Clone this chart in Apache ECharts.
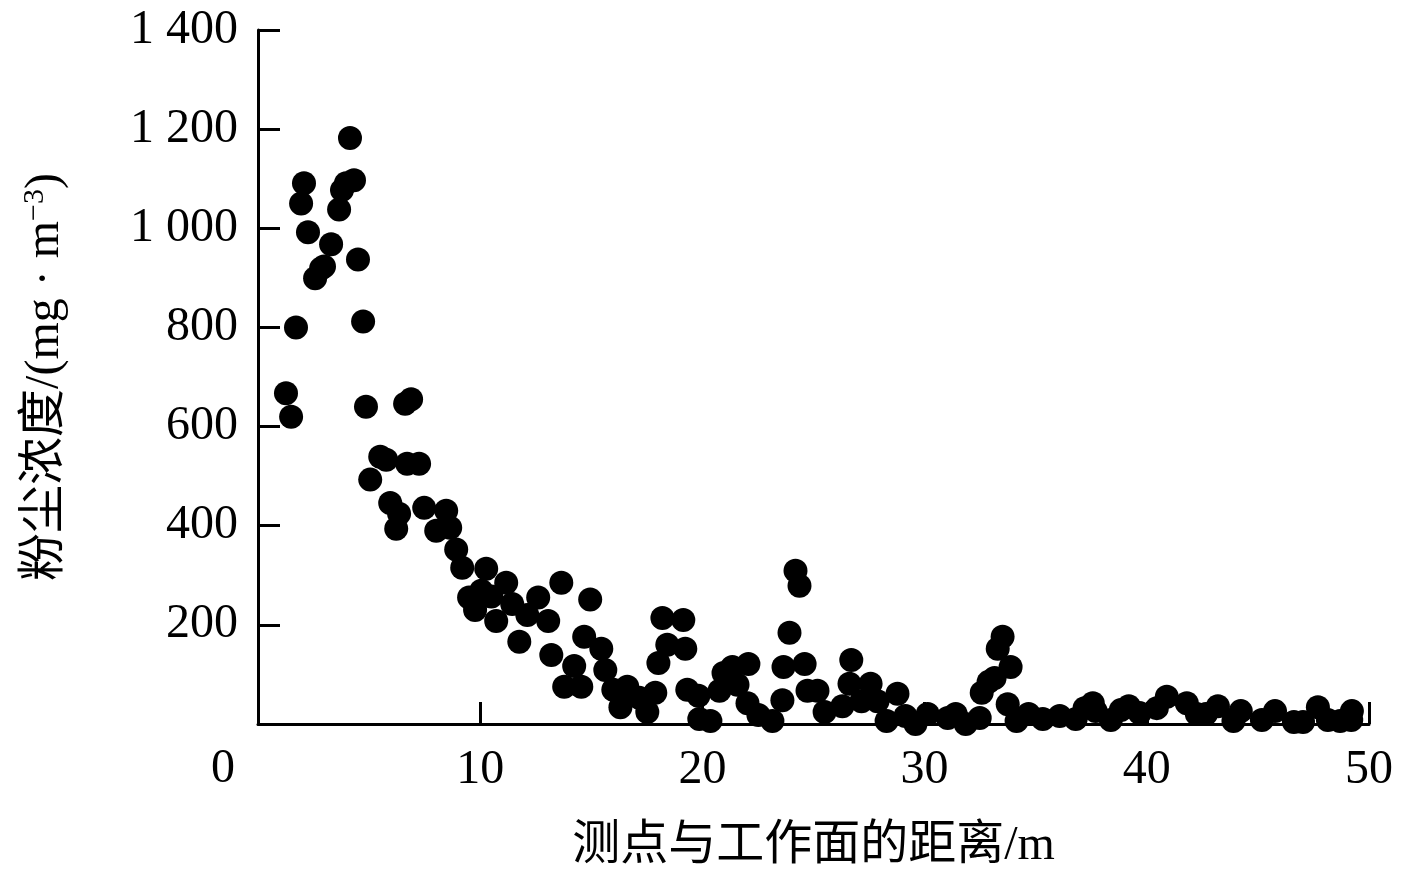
<!DOCTYPE html>
<html>
<head>
<meta charset="utf-8">
<script src="https://cdn.jsdelivr.net/npm/echarts@6/dist/echarts.min.js"></script>
<style>html,body{margin:0;padding:0;background:#fff}#main{width:1406px;height:884px}</style>
</head>
<body>
<div id="main"></div>
<script>
var xData = [1.26,1.49,1.71,1.94,2.07,2.25,2.57,2.84,2.97,3.29,3.65,3.78,3.96,4.14,4.32,4.50,4.73,4.86,5.05,5.50,5.77,5.95,6.22,6.35,6.62,6.89,6.71,7.25,7.48,8.02,8.47,8.65,8.92,9.19,9.5,9.77,10.05,10.27,10.5,10.72,11.17,11.44,11.76,12.12,12.61,13.06,13.2,13.65,13.78,14.23,14.55,14.68,14.95,15.45,15.63,15.99,16.31,16.62,17.16,17.52,17.88,18.02,18.2,18.42,19.14,19.23,19.32,19.82,19.86,20.36,20.77,20.95,21.35,21.58,22.07,22.03,22.52,23.15,23.6,23.65,23.92,24.19,24.37,24.6,24.73,25.18,25.5,26.3,26.7,26.62,27.16,27.57,27.88,28.29,28.78,29.14,29.59,30.14,31.04,31.4,31.85,32.48,32.57,32.88,33.15,33.29,33.51,33.87,33.74,34.14,34.68,35.32,36.08,36.8,37.2,37.57,37.7,38.38,38.83,39.19,39.68,40.45,40.9,41.8,42.25,42.66,43.2,43.9,44.23,45.18,45.77,46.62,47.03,47.7,48.15,48.7,49.23,49.2];
var yData = [667,620,800,1050,1091,992,899,919,923,968,1038,1077,1091,1182,1097,937,812,640,493,539,533,446,394,424,646,655,525,525,436,390,430,396,352,315,255,230,269,313,257,208,285,242,166,220,255,208,139,285,75,117,75,176,251,152,109,69,34,75,53,24,63,123,214,160,210,152,69,57,10,6,67,103,115,79,121,42,18,6,48,115,184,309,279,121,67,67,24,36,129,81,46,81,46,6,61,16,0,20,12,20,0,12,63,85,93,152,176,115,40,6,20,10,16,10,32,42,26,8,28,36,22,32,55,42,20,20,36,6,26,8,26,4,4,34,8,6,26,8];

var points = [];
for (var i = 0; i < xData.length; i++) points.push([xData[i], yData[i]]);

var font = '"Liberation Serif","Noto Sans CJK SC",serif';
var chart = echarts.init(document.getElementById('main'));
chart.setOption({
    animation: false,
    grid: { left: 258, right: 37, top: 30, bottom: 160, containLabel: false, outerBoundsMode: 'none' },
    graphic: [{ type: 'text', left: 211, top: 745, style: { text: '0', font: '48px ' + font, fill: '#000' } }],
    xAxis: {
        type: 'value', min: 0, max: 50, interval: 10,
        name: '测点与工作面的距离/m', nameLocation: 'middle', nameGap: 98,
        nameTextStyle: { fontFamily: font, fontSize: 48, color: '#000' },
        axisLine: { lineStyle: { color: '#000', width: 3 } },
        axisTick: { inside: true, length: 22, lineStyle: { color: '#000', width: 3 } },
        axisLabel: { fontFamily: font, fontSize: 48, color: '#000', margin: 22,
            formatter: function (v) { return v === 0 ? '' : v; } },
        splitLine: { show: false }
    },
    yAxis: {
        type: 'value', min: 0, max: 1400, interval: 200,
        name: '粉尘浓度/(mg · m{sup|−3})', nameLocation: 'middle', nameGap: 188,
        nameTextStyle: { fontFamily: font, fontSize: 48, color: '#000',
            rich: { sup: { fontFamily: font, fontSize: 30, verticalAlign: 'top', padding: [0, 0, 20, 0] } } },
        axisLine: { show: true, lineStyle: { color: '#000', width: 3 } },
        axisTick: { show: true, inside: true, length: 22, lineStyle: { color: '#000', width: 3 } },
        axisLabel: { fontFamily: font, fontSize: 48, color: '#000', margin: 20,
            formatter: function (v) {
                if (v === 0) return '';
                return v >= 1000 ? Math.floor(v / 1000) + ' ' + String(v % 1000).padStart(3, '0') : v;
            } },
        splitLine: { show: false }
    },
    series: [{
        type: 'scatter', symbolSize: 24, clip: false,
        itemStyle: { color: '#000', opacity: 1 },
        data: points
    }]
});
</script>
</body>
</html>
